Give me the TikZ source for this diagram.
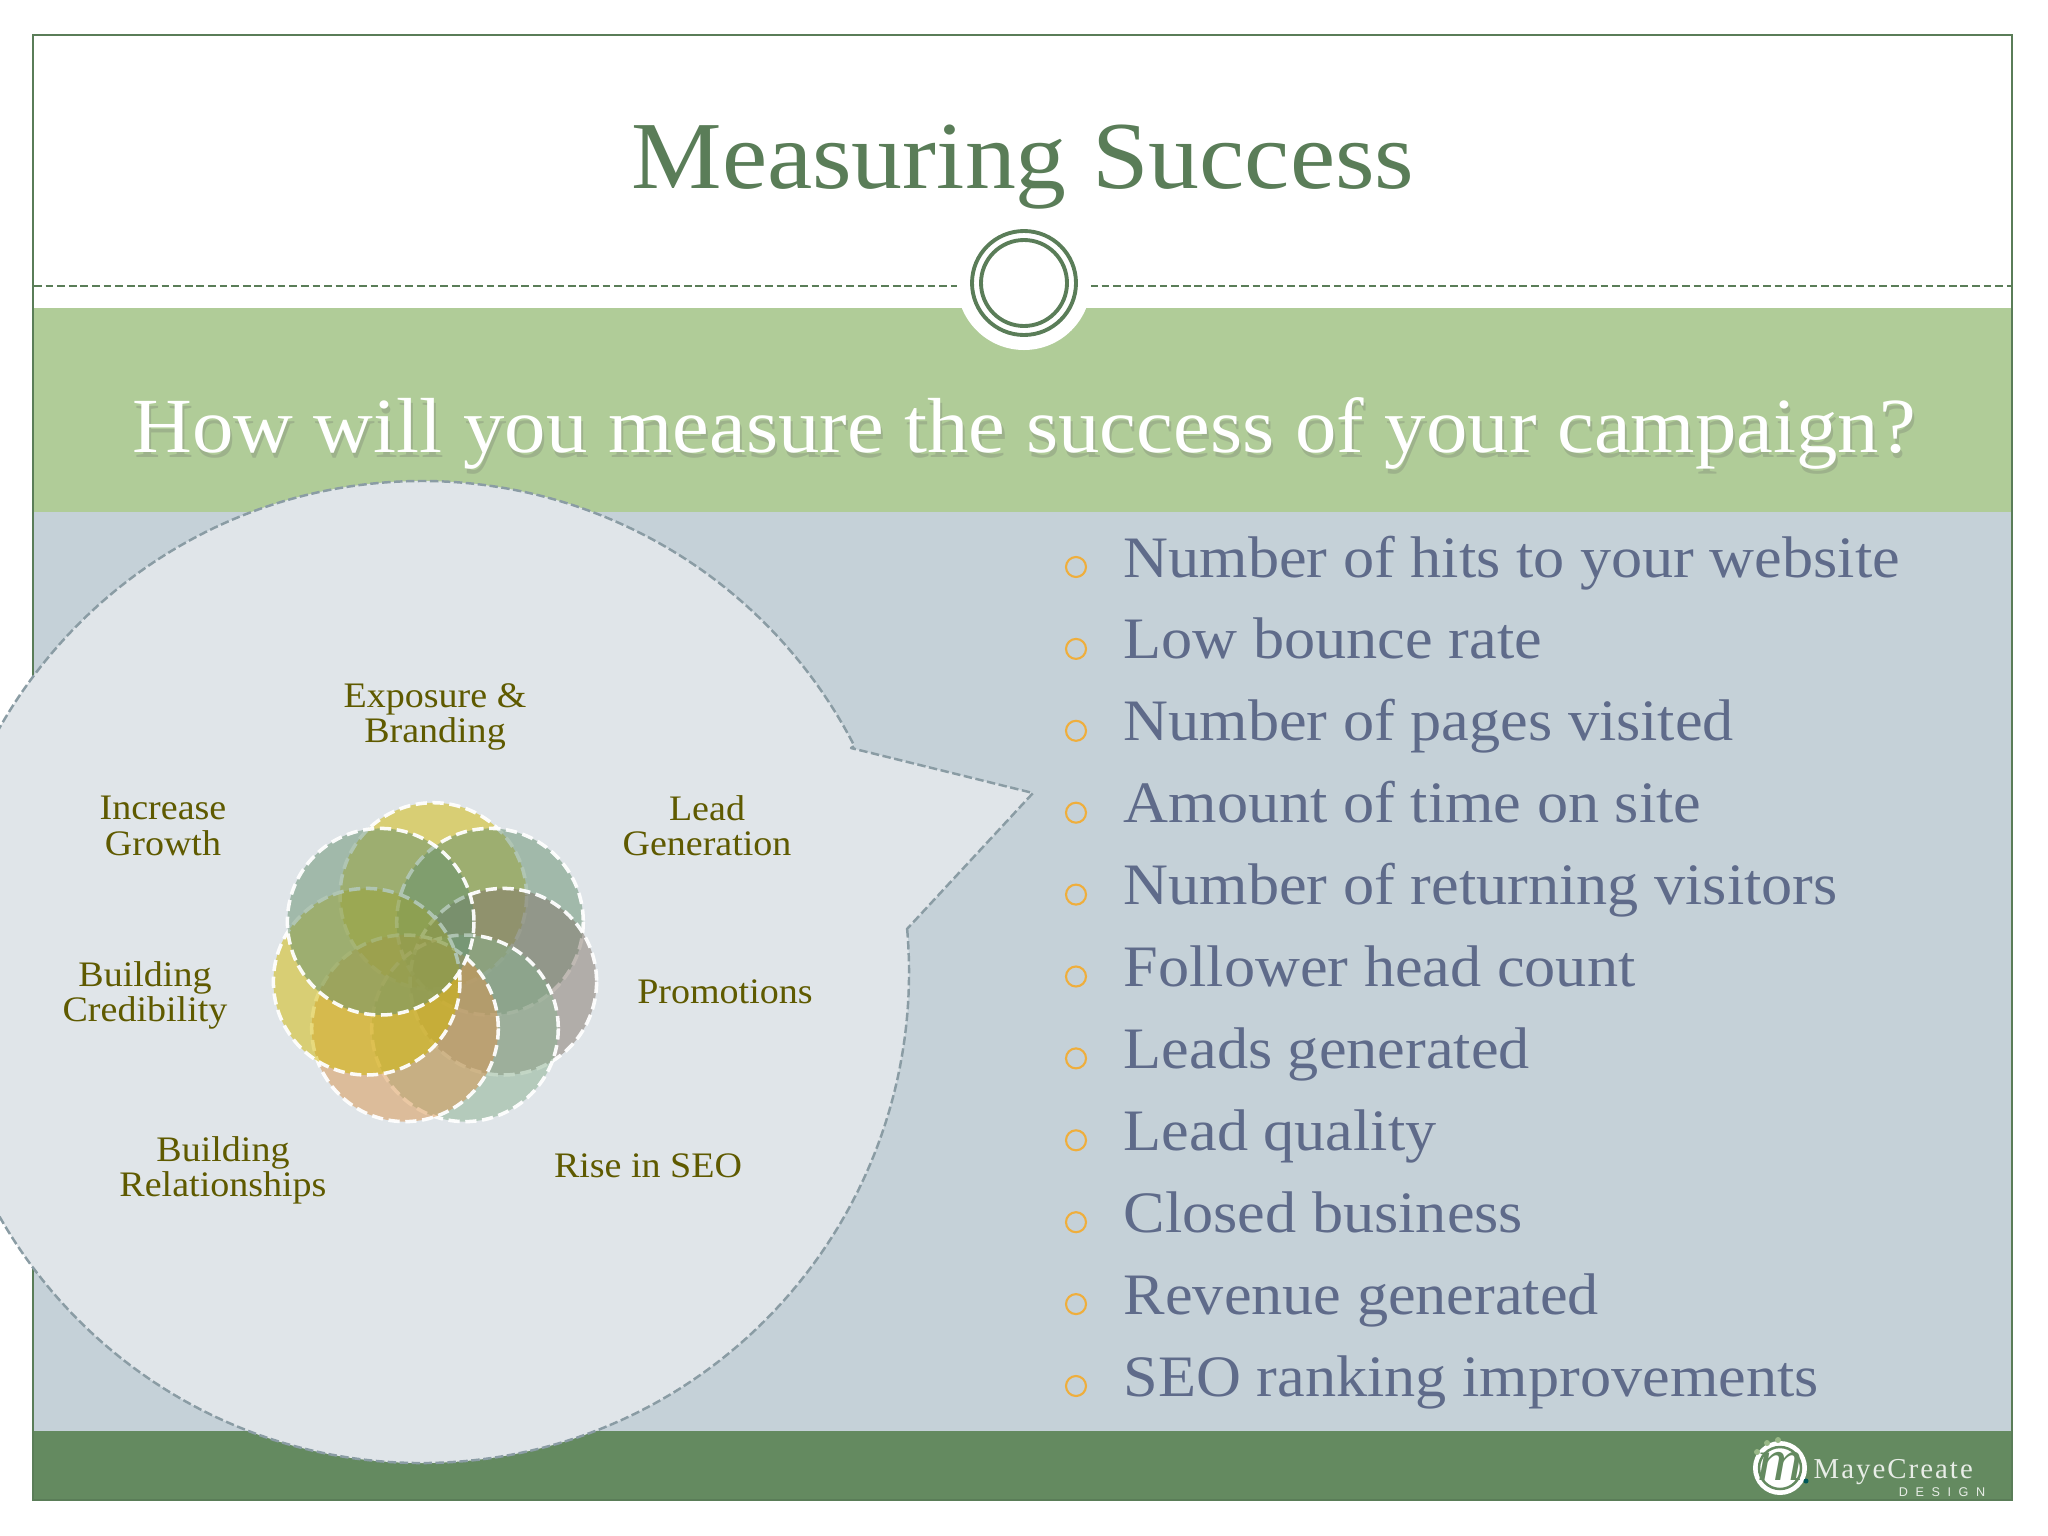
\documentclass[tikz,border=0pt]{standalone}
\usepackage{fontspec}
\setmainfont{Liberation Serif}
\newfontfamily\geo[FakeStretch=1.06]{Liberation Serif}
\newfontfamily\logofont[LetterSpace=7]{Liberation Serif}
\newfontfamily\logosmall[LetterSpace=60]{Liberation Sans}
\definecolor{framegreen}{HTML}{5A7D58}
\definecolor{bandgreen}{HTML}{B0CC98}
\definecolor{bluebg}{HTML}{C5D1D8}
\definecolor{footgreen}{HTML}{648A60}
\definecolor{bubblefill}{HTML}{E0E5E9}
\definecolor{bubbleline}{HTML}{8A9CA4}
\definecolor{itemtext}{HTML}{5F6B8A}
\definecolor{lbltext}{HTML}{5F5A00}
\definecolor{bulletorange}{HTML}{EFAE3C}
\definecolor{cYellow}{HTML}{D2B901}
\definecolor{cTeal}{HTML}{648F6D}
\definecolor{cGrey}{HTML}{84776B}
\definecolor{cSeo}{HTML}{8AB18F}
\definecolor{cTan}{HTML}{DA954D}
\tikzset{
  lbl/.style={font=\geo\fontsize{10.2}{10}\selectfont, text=lbltext, align=center, inner sep=0pt},
  itemrow/.style={font=\geo\fontsize{16.7}{18}\selectfont, text=itemtext, anchor=base west, inner sep=0pt},
  bulletring/.style={circle, draw=bulletorange, line width=0.6pt, minimum size=0.2cm, inner sep=0pt},
  petal/.style={fill opacity=0.5, draw=white, draw opacity=0.95, line width=1pt, dash pattern=on 3.2pt off 1.6pt},
  subline/.style={font=\geo\fontsize{22.2}{25}\selectfont, inner sep=0pt, anchor=base},
}
\begin{document}
\begin{tikzpicture}[x=0.01cm,y=-0.01cm]
\useasboundingbox (0,0) rectangle (2048,1536);
\clip (0,0) rectangle (2048,1536);
\fill[white] (0,0) rectangle (2048,1536);
% bands
\fill[bandgreen] (34,308) rectangle (2012,512);
\fill[bluebg] (34,512) rectangle (2012,1431);
\fill[footgreen] (34,1431) rectangle (2012,1500);
\draw[framegreen, line width=0.7pt] (33,35) rectangle (2012,1500);
% header rule
\draw[framegreen, line width=0.5pt, dash pattern=on 2.2pt off 1.1pt] (34,286) -- (2012,286);
\fill[white] (1024,283) circle (67);
\draw[framegreen, line width=1.1pt] (1024,283) circle (52);
\draw[framegreen, line width=1.1pt] (1024,283) circle (43);
% title
\node[font=\geo\fontsize{27.3}{28}\selectfont, text=framegreen, inner sep=0pt, anchor=base] (title) at (1023,188) {Measuring Success};
% subtitle
\node[subline, text=black!60, opacity=0.25] (subshadow) at (1026,457) {How will you measure the success of your campaign?};
\node[subline, text=white] (subtitle) at (1024,452) {How will you measure the success of your campaign?};
% bubble
\coordinate (bubbleupper) at (851,748);
\coordinate (bubbletip) at (1033,793);
\coordinate (bubblelower) at (907,929);
\begin{scope}[shift={(422,972)}, rotate=-1]
\filldraw[fill=bubblefill, draw=bubbleline, line width=0.7pt, dash pattern=on 2.4pt off 1pt, line join=round]
  ({487*cos(-6)},{491*sin(-6)}) arc[start angle=-6, end angle=331.6, x radius=487, y radius=491]
  -- (bubbleupper) -- (bubbletip) -- (bubblelower) -- cycle;
\end{scope}
% petals
\filldraw[fill=cYellow, petal] (433.3,896) circle (93.3);
\filldraw[fill=cTeal, petal] (490,921.7) circle (93.3);
\filldraw[fill=cGrey, petal] (503.3,981.7) circle (93.3);
\filldraw[fill=cSeo, petal] (465,1028.3) circle (93.3);
\filldraw[fill=cTan, petal] (405,1028.3) circle (93.3);
\filldraw[fill=cYellow, petal] (366.7,981.7) circle (93.3);
\filldraw[fill=cTeal, petal] (380.7,921.7) circle (93.3);
% petal labels
\node[lbl] (l1) at (435,717) {Exposure \&\\Branding};
\node[lbl] (l2) at (707,826) {Lead\\Generation};
\node[lbl] (l3) at (725,992) {Promotions};
\node[lbl] (l4) at (648,1166) {Rise in SEO};
\node[lbl] (l5) at (223,1170) {Building\\Relationships};
\node[lbl] (l6) at (145,995) {Building\\Credibility};
\node[lbl] (l7) at (163,826) {Increase\\Growth};
% list
\foreach \i/\t in {0/Number of hits to your website,1/Low bounce rate,2/Number of pages visited,3/Amount of time on site,4/Number of returning visitors,5/Follower head count,6/Leads generated,7/Lead quality,8/Closed business,9/Revenue generated,10/SEO ranking improvements}{
  \node[bulletring] (b\i) at (1076,567+81.9*\i) {};
  \node[itemrow] (t\i) at (1123,577+81.9*\i) {\t};
}
% logo
\fill[white] (1780,1468) circle (27);
\draw[footgreen, line width=0.7pt] (1780,1468) circle (21);
\fill[bandgreen!70!footgreen] (1767,1443) circle (3) (1778,1440) circle (3) (1757,1452) circle (3);
\fill[teal!70!black] (1806,1481) circle (2.5);
\node[font=\geo\itshape\fontsize{17}{17}\selectfont, text=footgreen, inner sep=0pt] (logom) at (1780,1466) {m};
\node[font=\logofont\fontsize{8.2}{9}\selectfont, text=white!85!footgreen, inner sep=0pt, anchor=base west] (logot) at (1813,1478) {MayeCreate};
\node[font=\logosmall\fontsize{3.6}{4}\selectfont, text=white!85!footgreen, inner sep=0pt, anchor=base east] (logod) at (1986,1496) {DESIGN};
\end{tikzpicture}
\end{document}
